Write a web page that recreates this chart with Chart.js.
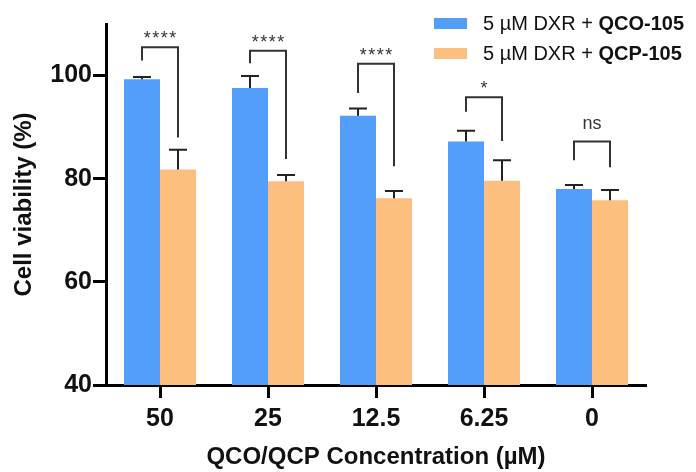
<!DOCTYPE html>
<html>
<head>
    <title>Cell viability</title>
    <script src="https://cdn.jsdelivr.net/npm/chart.js@4.4.1/dist/chart.umd.min.js"></script>
    <style>
        body { margin: 0; background: #fff; }
        #wrap { position: relative; width: 696px; height: 472px; }
        .legend {
            position: absolute; left: 434px; top: 8px;
            font: 20px "Liberation Sans", Arial, sans-serif; color: #111;
        }
        .legend div { display: flex; align-items: center; height: 30px; white-space: nowrap; }
        .legend .box { display: inline-block; width: 33px; height: 11px; margin-right: 16px; }
    </style>
</head>
<body>
    <div id="wrap">
        <canvas id="chart" width="696" height="472"></canvas>
        <div class="legend">
            <div><span class="box" style="background:#539dfb"></span>5 µM DXR + <b>&nbsp;QCO-105</b></div>
            <div><span class="box" style="background:#fdbf80"></span>5 µM DXR + <b>&nbsp;QCP-105</b></div>
        </div>
    </div>
    <script>
        // data
        const concentrations = ['50', '25', '12.5', '6.25', '0'];
        const qcoMean = [99.3, 97.6, 92.2, 87.2, 78.0];
        const qcoErr = [0.4, 2.3, 1.4, 2.1, 0.8];
        const qcpMean = [81.8, 79.5, 76.2, 79.6, 75.8];
        const qcpErr = [3.8, 1.2, 1.4, 4.0, 2.0];
        const yTicks = [40, 60, 80, 100];

        // significance brackets (y values)
        const bracketTop = [105.5, 104.8, 102.3, 95.8, 87.2];
        const bracketLeftEnd = [102.9, 102.4, 96.6, 93.0, 83.6];
        const bracketRightEnd = [88.0, 83.8, 82.4, 87.3, 82.2];
        const sigLabels = ['****', '****', '****', '*', 'ns'];

        const FONT = '"Liberation Sans", Arial, sans-serif';

        const annotations = {
            id: 'annotations',
            afterDatasetsDraw(chart) {
                const ctx = chart.ctx;
                const y = chart.scales.y;
                const m0 = chart.getDatasetMeta(0).data;
                const m1 = chart.getDatasetMeta(1).data;
                ctx.save();
                // error bars (upper only)
                ctx.strokeStyle = '#222';
                ctx.lineWidth = 2;
                const drawErr = (bar, mean, err) => {
                    const y0 = y.getPixelForValue(mean);
                    const y1 = y.getPixelForValue(mean + err);
                    ctx.beginPath();
                    ctx.moveTo(bar.x, y0);
                    ctx.lineTo(bar.x, y1);
                    ctx.moveTo(bar.x - 9, y1);
                    ctx.lineTo(bar.x + 9, y1);
                    ctx.stroke();
                };
                concentrations.forEach((c, i) => {
                    drawErr(m0[i], qcoMean[i], qcoErr[i]);
                    drawErr(m1[i], qcpMean[i], qcpErr[i]);
                });
                // brackets
                ctx.strokeStyle = '#333';
                ctx.lineWidth = 2;
                ctx.fillStyle = '#333';
                ctx.textAlign = 'center';
                ctx.textBaseline = 'alphabetic';
                concentrations.forEach((c, i) => {
                    const xl = m0[i].x, xr = m1[i].x;
                    const top = y.getPixelForValue(bracketTop[i]);
                    ctx.beginPath();
                    ctx.moveTo(xl, y.getPixelForValue(bracketLeftEnd[i]));
                    ctx.lineTo(xl, top);
                    ctx.lineTo(xr, top);
                    ctx.lineTo(xr, y.getPixelForValue(bracketRightEnd[i]));
                    ctx.stroke();
                    const lbl = sigLabels[i];
                    ctx.font = '18px ' + FONT;
                    if (lbl === 'ns') {
                        ctx.letterSpacing = '0px';
                        ctx.fillText(lbl, (xl + xr) / 2, top - 13);
                    } else {
                        ctx.letterSpacing = '1.5px';
                        ctx.fillText(lbl, (xl + xr) / 2 + 0.75, top - 3);
                    }
                });
                ctx.restore();
            }
        };

        new Chart(document.getElementById('chart'), {
            type: 'bar',
            data: {
                labels: concentrations,
                datasets: [{
                    label: '5 µM DXR + QCO-105',
                    data: qcoMean,
                    backgroundColor: '#539dfb'
                }, {
                    label: '5 µM DXR + QCP-105',
                    data: qcpMean,
                    backgroundColor: '#fdbf80'
                }]
            },
            options: {
                responsive: false,
                animation: false,
                layout: { padding: { top: 24, right: 50, left: 0, bottom: 0 } },
                datasets: { bar: { categoryPercentage: 2 / 3, barPercentage: 1 } },
                plugins: { legend: { display: false }, tooltip: { enabled: false } },
                scales: {
                    x: {
                        afterFit: (s) => { s.height = 87; },
                        grid: { display: true, offset: false, drawOnChartArea: false, tickLength: 13, tickWidth: 3, tickColor: '#000' },
                        border: { display: true, width: 3, color: '#000' },
                        ticks: { color: '#111', padding: 6, font: { family: FONT, size: 25, weight: 'bold' } },
                        title: {
                            display: true, text: 'QCO/QCP Concentration (µM)', color: '#111',
                            padding: { top: 0, bottom: 0 },
                            font: { family: FONT, size: 24, weight: 'bold' }
                        }
                    },
                    y: {
                        min: 40, max: 110,
                        afterFit: (s) => { s.width = 106; },
                        afterBuildTicks: (s) => { s.ticks = yTicks.map(v => ({ value: v })); },
                        grid: { display: true, drawOnChartArea: false, tickLength: 13, tickWidth: 3, tickColor: '#000' },
                        border: { display: true, width: 3, color: '#000' },
                        ticks: { color: '#111', padding: 1, font: { family: FONT, size: 25, weight: 'bold' } },
                        title: {
                            display: true, text: 'Cell viability (%)', color: '#111',
                            padding: { top: 10, bottom: 0 },
                            font: { family: FONT, size: 24, weight: 'bold' }
                        }
                    }
                }
            },
            plugins: [annotations]
        });
    </script>
</body>
</html>
